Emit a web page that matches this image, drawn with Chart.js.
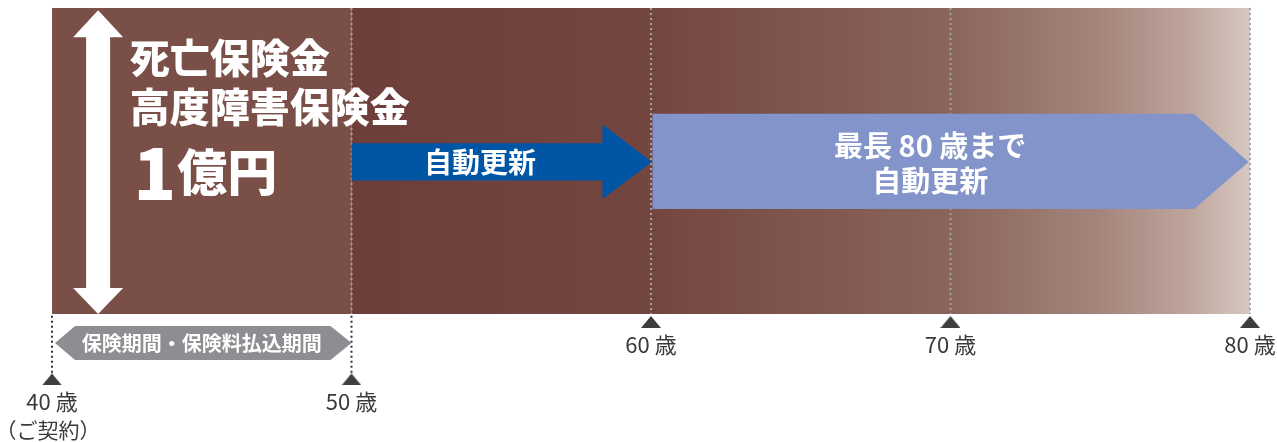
<!DOCTYPE html>
<html lang="ja">
<head>
<meta charset="utf-8">
<script src="https://cdn.jsdelivr.net/npm/chart.js@4.4.1/dist/chart.umd.min.js"></script>
<style>
  html, body { margin: 0; padding: 0; background: #fff; }
  canvas { display: block; }
</style>
</head>
<body>
<canvas id="plan" width="1277" height="442"></canvas>
<script>
// 年齢の目盛り
var ages = [40, 50, 60, 70, 80];
var ageLabels = ['40 歳', '50 歳', '60 歳', '70 歳', '80 歳'];
var contractNote = '（ご契約）';

// 期間
var termStart = 40;     // ご契約
var termEnd = 50;       // 保険期間・保険料払込期間の終わり
var renewEnd = 60;      // 1回目の自動更新
var maxAge = 80;        // 最長

// 文言
var coverTitle = ['死亡保険金', '高度障害保険金'];
var coverAmount = ['1', '億円'];
var periodLabel = '保険期間・保険料払込期間';
var renewLabel = '自動更新';
var maxRenewLabel = ['最長 80 歳まで', '自動更新'];

// 縦方向の位置 (帯の下端 0 / 上端 100)
var lv = {
    bandTop: 100, bandBottom: 0,
    titleY: [83.7, 67.6], amountY: 46.4,
    arrowTop: 99.3, arrowHeadTop: 90.4, arrowHeadBottom: 8.5,
    blueShaft: [55.8, 43.6], blueHead: [62.0, 37.6], midY: 49.7,
    purple: [65.4, 34.3], purpleText: [54.9, 43.5],
    hex: [-3.9, -15.0], hexText: -9.7,
    upperTri: -2.6, upperLabel: -10.1,
    lowerTri: -21.4, lowerLabel: -28.8, noteY: -37.9,
    dotBottom: -19.3
};

var FONT = '"Noto Sans CJK JP", "Noto Sans", sans-serif';

// ▲ の形をポイントに使う
function makeTriangle() {
    var c = document.createElement('canvas');
    c.width = 20; c.height = 12;
    var g = c.getContext('2d');
    g.fillStyle = '#3e3e3e';
    g.beginPath();
    g.moveTo(10, 0); g.lineTo(20, 12); g.lineTo(0, 12); g.closePath();
    g.fill();
    return c;
}
var tri = makeTriangle();

var upperTicks = ages.filter(function (a) { return a > termEnd; });
var lowerTicks = ages.filter(function (a) { return a <= termEnd; });

function vline(age, from, to, color) {
    return {
        type: 'line',
        data: [{x: age, y: from}, {x: age, y: to}],
        borderColor: color, borderWidth: 2, borderDash: [2, 3],
        pointRadius: 0, fill: false
    };
}

var datasets = [];
ages.forEach(function (a) {
    if (a > termStart) datasets.push(vline(a, lv.bandTop, lv.bandBottom, '#a3a3a3'));
});
lowerTicks.forEach(function (a) {
    datasets.push(vline(a, lv.bandBottom - 0.6, lv.dotBottom, '#333333'));
});
datasets.push({
    type: 'scatter',
    data: upperTicks.map(function (a) { return {x: a, y: lv.upperTri}; })
        .concat(lowerTicks.map(function (a) { return {x: a, y: lv.lowerTri}; })),
    pointStyle: tri, pointRadius: 10
});

var drawPlan = {
    id: 'drawPlan',
    beforeDatasetsDraw: function (chart) {
        var ctx = chart.ctx;
        var xs = chart.scales.x, ys = chart.scales.y;
        var X = function (v) { return xs.getPixelForValue(v); };
        var Y = function (v) { return ys.getPixelForValue(v); };
        var top = Y(lv.bandTop), bot = Y(lv.bandBottom);

        ctx.save();
        // 保険期間の帯
        ctx.fillStyle = '#7a4f48';
        ctx.fillRect(X(termStart), top, X(termEnd) - X(termStart), bot - top);
        // 更新後の帯 (グラデーション)
        var g = ctx.createLinearGradient(X(termEnd), 0, X(maxAge), 0);
        var span = maxAge - termEnd;
        g.addColorStop(0, '#6d3e3a');
        g.addColorStop((renewEnd - termEnd) / span, '#744640');
        g.addColorStop((70 - termEnd) / span, '#8a655c');
        g.addColorStop((75 - termEnd) / span, '#a4857b');
        g.addColorStop((78 - termEnd) / span, '#bfa69d');
        g.addColorStop(1, '#d6c8c1');
        ctx.fillStyle = g;
        ctx.fillRect(X(termEnd), top, X(maxAge) - X(termEnd), bot - top);
        ctx.restore();
    },
    afterDatasetsDraw: function (chart) {
        var ctx = chart.ctx;
        var xs = chart.scales.x, ys = chart.scales.y;
        var X = function (v) { return xs.getPixelForValue(v); };
        var Y = function (v) { return ys.getPixelForValue(v); };
        var poly = function (pts, color) {
            ctx.fillStyle = color;
            ctx.beginPath();
            pts.forEach(function (p, i) {
                if (i === 0) ctx.moveTo(X(p[0]), Y(p[1]));
                else ctx.lineTo(X(p[0]), Y(p[1]));
            });
            ctx.closePath();
            ctx.fill();
        };
        ctx.save();

        // 白い両矢印
        var ax = termStart + 1.54, sw = 0.4, hw = 0.835;
        poly([[ax, lv.arrowTop], [ax + hw, lv.arrowHeadTop], [ax + sw, lv.arrowHeadTop],
              [ax + sw, lv.arrowHeadBottom], [ax + hw, lv.arrowHeadBottom], [ax, lv.bandBottom],
              [ax - hw, lv.arrowHeadBottom], [ax - sw, lv.arrowHeadBottom],
              [ax - sw, lv.arrowHeadTop], [ax - hw, lv.arrowHeadTop]], '#ffffff');

        // 自動更新 (青い矢印)
        var headStart = renewEnd - 1.62;
        poly([[termEnd, lv.blueShaft[0]], [headStart, lv.blueShaft[0]], [headStart, lv.blueHead[0]],
              [renewEnd + 0.03, lv.midY], [headStart, lv.blueHead[1]], [headStart, lv.blueShaft[1]],
              [termEnd, lv.blueShaft[1]]], '#0055a5');

        // 最長80歳まで自動更新
        var chamfer = maxAge - 1.87;
        poly([[renewEnd + 0.05, lv.purple[0]], [chamfer, lv.purple[0]], [maxAge - 0.05, lv.midY],
              [chamfer, lv.purple[1]], [renewEnd + 0.05, lv.purple[1]]], '#8294c9');

        // 保険期間・保険料払込期間
        var hm = (lv.hex[0] + lv.hex[1]) / 2;
        poly([[termStart + 0.1, hm], [termStart + 0.77, lv.hex[0]], [termEnd - 0.7, lv.hex[0]],
              [termEnd, hm], [termEnd - 0.7, lv.hex[1]], [termStart + 0.77, lv.hex[1]]], '#8d8e92');

        ctx.textBaseline = 'middle';
        ctx.fillStyle = '#ffffff';

        // 保険金額
        ctx.textAlign = 'left';
        ctx.font = '900 40px ' + FONT;
        coverTitle.forEach(function (t, i) {
            ctx.fillText(t, X(termStart + 2.6), Y(lv.titleY[i]));
        });
        ctx.font = '900 70px ' + FONT;
        ctx.fillText(coverAmount[0], X(termStart + 2.72), Y(lv.amountY) + 1);
        ctx.font = '900 50px ' + FONT;
        ctx.fillText(coverAmount[1], X(termStart + 4.18), Y(lv.amountY));

        ctx.textAlign = 'center';
        ctx.font = 'bold 28px ' + FONT;
        ctx.fillText(renewLabel, X(54.29), Y(lv.midY));
        ctx.font = 'bold 29px ' + FONT;
        maxRenewLabel.forEach(function (t, i) {
            ctx.fillText(t, X(69.32), Y(lv.purpleText[i]));
        });
        ctx.font = 'bold 20px ' + FONT;
        ctx.fillText(periodLabel, X(45.0), Y(lv.hexText));

        // 年齢の目盛り
        ctx.fillStyle = '#3a3a3a';
        ctx.font = '22px ' + FONT;
        ages.forEach(function (a, i) {
            var y = a > termEnd ? lv.upperLabel : lv.lowerLabel;
            ctx.fillText(ageLabels[i], X(a), Y(y));
        });
        ctx.font = '21px ' + FONT;
        ctx.fillText(contractNote, X(termStart) - 4, Y(lv.noteY));
        ctx.restore();
    }
};

new Chart(document.getElementById('plan'), {
    type: 'scatter',
    data: { datasets: datasets },
    options: {
        responsive: false,
        animation: false,
        devicePixelRatio: 1,
        layout: { padding: 0, autoPadding: false },
        plugins: { legend: { display: false }, tooltip: { enabled: false } },
        scales: {
            x: { type: 'linear', min: 38.2638, max: 80.9015, display: false },
            y: { type: 'linear', min: -41.83, max: 102.61, display: false }
        }
    },
    plugins: [drawPlan]
});
</script>
</body>
</html>
